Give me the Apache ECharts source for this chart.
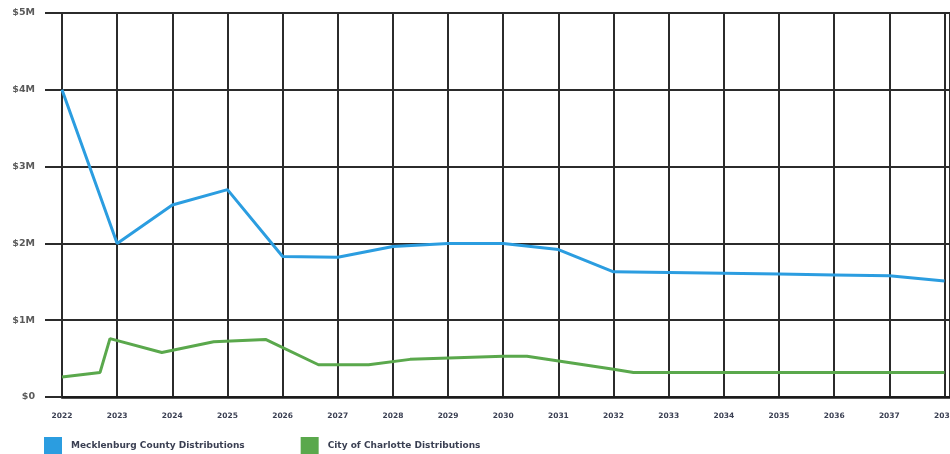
<!DOCTYPE html>
<html>
<head>
<meta charset="utf-8">
<script src="https://cdn.jsdelivr.net/npm/echarts@6/dist/echarts.min.js"></script>
<style>
    html, body { margin: 0; padding: 0; background: #fff; }
    #chart { width: 950px; height: 454px; }
</style>
</head>
<body>
<div id="chart"></div>
<script>
// values in $ millions
const countyYears = [2022, 2023, 2024, 2025, 2026, 2027, 2028, 2029, 2030, 2031, 2032, 2033, 2034, 2035, 2036, 2037, 2038];
const countyValues = [4.0, 2.0, 2.5, 2.7, 1.83, 1.82, 1.96, 2.0, 2.0, 1.92, 1.63, 1.62, 1.61, 1.60, 1.59, 1.58, 1.51];

const cityYears = [2022, 2022.69, 2022.87, 2023.81, 2024.75, 2025.69, 2026.65, 2027.56, 2028.31, 2030, 2030.43, 2032, 2032.36, 2038];
const cityValues = [0.26, 0.32, 0.76, 0.58, 0.72, 0.75, 0.42, 0.42, 0.49, 0.53, 0.53, 0.36, 0.32, 0.32];

const yTickLabels = ['$0', '$1M', '$2M', '$3M', '$4M', '$5M'];

const countyName = 'Mecklenburg County Distributions';
const cityName = 'City of Charlotte Distributions';

const pairs = (xs, ys) => xs.map((x, i) => [x, ys[i]]);

var myChart = echarts.init(document.getElementById('chart'));

myChart.setOption({
    animation: false,
    textStyle: { fontFamily: 'DejaVu Sans' },
    legend: {
        left: 44,
        top: 437,
        padding: 0,
        icon: 'rect',
        itemWidth: 18,
        itemHeight: 17,
        itemGap: 56,
        textStyle: {
            fontSize: 9,
            fontWeight: 'bold',
            color: '#3a3f52',
            padding: [0, 0, 0, 4]
        },
        data: [countyName, cityName]
    },
    grid: {
        left: 62,
        right: 0,
        top: 13,
        bottom: 57,
        outerBoundsMode: 'none'
    },
    xAxis: {
        type: 'value',
        min: 2022,
        max: 2038.1,
        interval: 1,
        axisLine: { show: true, lineStyle: { color: '#1a1a1a', width: 2.5 } },
        axisTick: { show: false },
        axisLabel: {
            margin: 15,
            fontSize: 7.5,
            fontWeight: 'bold',
            color: '#3a3f52',
            showMaxLabel: false,
            formatter: v => String(v)
        },
        splitLine: { show: true, lineStyle: { color: '#2b2b2b', width: 2 } }
    },
    yAxis: {
        type: 'value',
        min: 0,
        max: 5,
        interval: 1,
        axisLine: { show: true, lineStyle: { color: '#2b2b2b', width: 2 } },
        axisTick: { show: true, inside: false, length: 17, lineStyle: { color: '#2b2b2b', width: 2 } },
        axisLabel: {
            margin: 27,
            fontSize: 9.5,
            fontWeight: 'bold',
            color: '#5a5a5a',
            formatter: v => yTickLabels[Math.round(v)]
        },
        splitLine: { show: true, lineStyle: { color: '#2b2b2b', width: 2 } }
    },
    series: [
        {
            name: countyName,
            type: 'line',
            data: pairs(countyYears, countyValues),
            symbol: 'none',
            color: '#2b9de0',
            lineStyle: { width: 3 }
        },
        {
            name: cityName,
            type: 'line',
            data: pairs(cityYears, cityValues),
            symbol: 'none',
            color: '#5aa84c',
            lineStyle: { width: 3 }
        }
    ]
});
</script>
</body>
</html>
